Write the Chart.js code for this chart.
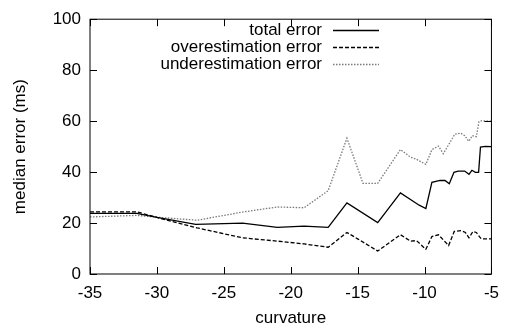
<!DOCTYPE html>
<html>
<head>
<meta charset="utf-8">
<script src="https://cdn.jsdelivr.net/npm/chart.js@4"></script>
<style>
    html, body { margin: 0; padding: 0; background: #fff; }
    #wrap { width: 508px; height: 325px; }
</style>
</head>
<body>
<div id="wrap"><canvas id="grafico"></canvas></div>
<script>
const xTicks = [-35, -30, -25, -20, -15, -10, -5]
const yTicks = [0, 20, 40, 60, 80, 100]

const seriesNames = ['total error', 'overestimation error', 'underestimation error']

const totalX = [-35, -31.5, -30, -27.1, -23.6, -21.0, -19.0, -17.2, -15.8, -13.5, -11.8, -10.4, -9.9, -9.45, -8.84, -8.47, -8.15, -7.8, -7.49, -7.0, -6.68, -6.46, -6.2, -5.96, -5.82, -5.45, -5]
const totalY = [23.8, 23.8, 22.2, 19.5, 20.0, 18.3, 18.8, 18.3, 27.9, 20.2, 31.8, 27.0, 25.7, 36.0, 36.7, 36.7, 35.4, 39.9, 40.4, 40.4, 39.1, 40.7, 39.9, 39.9, 49.8, 50.1, 50.0]

const overX = [-35, -31.5, -30, -27, -23.6, -21, -19, -17.2, -15.8, -15.0, -13.5, -11.8, -11.05, -10.6, -9.9, -9.45, -8.96, -8.2, -7.78, -7.24, -6.95, -6.68, -6.38, -6.13, -5.77, -5]
const overY = [24.4, 24.4, 22.2, 18.1, 14.2, 12.9, 11.8, 10.5, 16.3, 13.8, 9.0, 15.4, 12.9, 13.1, 9.7, 14.7, 15.4, 11.2, 16.7, 17.0, 16.3, 14.2, 16.7, 16.3, 13.8, 13.8]

const underX = [-35, -31.5, -30, -27, -23.6, -21, -19, -17.2, -15.8, -14.6, -13.5, -11.8, -11.05, -10.6, -9.9, -9.45, -8.96, -8.6, -7.73, -7.3, -7.0, -6.7, -6.43, -6.13, -5.93, -5.77, -5]
const underY = [22.4, 23.0, 22.3, 21.1, 24.3, 26.3, 26.0, 32.7, 53.3, 35.6, 35.6, 48.8, 45.9, 45.0, 43.0, 48.8, 50.2, 47.2, 54.9, 55.3, 54.3, 52.1, 54.3, 53.9, 59.8, 60.1, 60.0]

const FUENTE = '"Liberation Sans", Arial, sans-serif'

function puntos(xs, ys) {
    return xs.map((x, i) => ({ x: x, y: ys[i] }))
}

const estilos = [
    { color: '#000', dash: [] },
    { color: '#000', dash: [4, 2] },
    { color: '#7a7a7a', dash: [1.5, 1.5] }
]

// marco, ticks hacia adentro y leyenda estilo gnuplot
const marcoPlugin = {
    id: 'marco',
    afterDraw(chart) {
        const ctx = chart.ctx
        const a = chart.chartArea
        const xs = chart.scales.x
        const ys = chart.scales.y
        const largo = 7
        ctx.save()
        ctx.strokeStyle = '#000'
        ctx.lineWidth = 1
        ctx.setLineDash([])
        ctx.strokeRect(a.left, a.top, a.right - a.left, a.bottom - a.top)
        ctx.beginPath()
        xTicks.forEach(v => {
            const px = Math.round(xs.getPixelForValue(v)) + 0.5
            ctx.moveTo(px, a.bottom); ctx.lineTo(px, a.bottom - largo)
            ctx.moveTo(px, a.top); ctx.lineTo(px, a.top + largo)
        })
        yTicks.forEach(v => {
            const py = Math.round(ys.getPixelForValue(v)) + 0.5
            ctx.moveTo(a.left, py); ctx.lineTo(a.left + largo, py)
            ctx.moveTo(a.right, py); ctx.lineTo(a.right - largo, py)
        })
        ctx.stroke()

        // leyenda
        ctx.font = '17px ' + FUENTE
        ctx.textAlign = 'right'
        ctx.textBaseline = 'middle'
        ctx.fillStyle = '#000'
        seriesNames.forEach((nombre, i) => {
            const y = 30 + i * 17
            ctx.fillText(nombre, 322, y)
            ctx.strokeStyle = estilos[i].color
            ctx.setLineDash(estilos[i].dash)
            ctx.lineWidth = 1.3
            ctx.beginPath()
            ctx.moveTo(333, y + 0.5)
            ctx.lineTo(379, y + 0.5)
            ctx.stroke()
        })
        ctx.restore()
    }
}

const datos = [puntos(totalX, totalY), puntos(overX, overY), puntos(underX, underY)]

new Chart(document.getElementById('grafico'), {
    type: 'line',
    data: {
        datasets: datos.map((d, i) => ({
            label: seriesNames[i],
            data: d,
            borderColor: estilos[i].color,
            borderDash: estilos[i].dash,
            borderWidth: 1.3,
            pointRadius: 0,
            tension: 0,
            fill: false
        }))
    },
    options: {
        responsive: true,
        maintainAspectRatio: false,
        animation: false,
        layout: { padding: { top: 15, right: 10, left: 0, bottom: 0 } },
        plugins: {
            legend: { display: false },
            tooltip: { enabled: false }
        },
        scales: {
            x: {
                type: 'linear',
                min: -35,
                max: -5,
                afterBuildTicks: s => { s.ticks = xTicks.map(v => ({ value: v })) },
                afterFit: s => { s.height = 51 },
                grid: { display: false, drawTicks: false },
                border: { display: false },
                ticks: {
                    color: '#000',
                    padding: 9,
                    maxRotation: 0,
                    font: { family: FUENTE, size: 17 }
                },
                title: {
                    display: true,
                    text: 'curvature',
                    color: '#000',
                    padding: { top: 6, bottom: -4 },
                    font: { family: FUENTE, size: 17 }
                }
            },
            y: {
                min: 0,
                max: 100,
                afterBuildTicks: s => { s.ticks = yTicks.map(v => ({ value: v })) },
                afterFit: s => { s.width = 90 },
                grid: { display: false, drawTicks: false },
                border: { display: false },
                ticks: {
                    color: '#000',
                    padding: 9,
                    font: { family: FUENTE, size: 17 }
                },
                title: {
                    display: true,
                    text: 'median error (ms)',
                    color: '#000',
                    padding: { top: 10, bottom: 0 },
                    font: { family: FUENTE, size: 17 }
                }
            }
        }
    },
    plugins: [marcoPlugin]
})
</script>
</body>
</html>
